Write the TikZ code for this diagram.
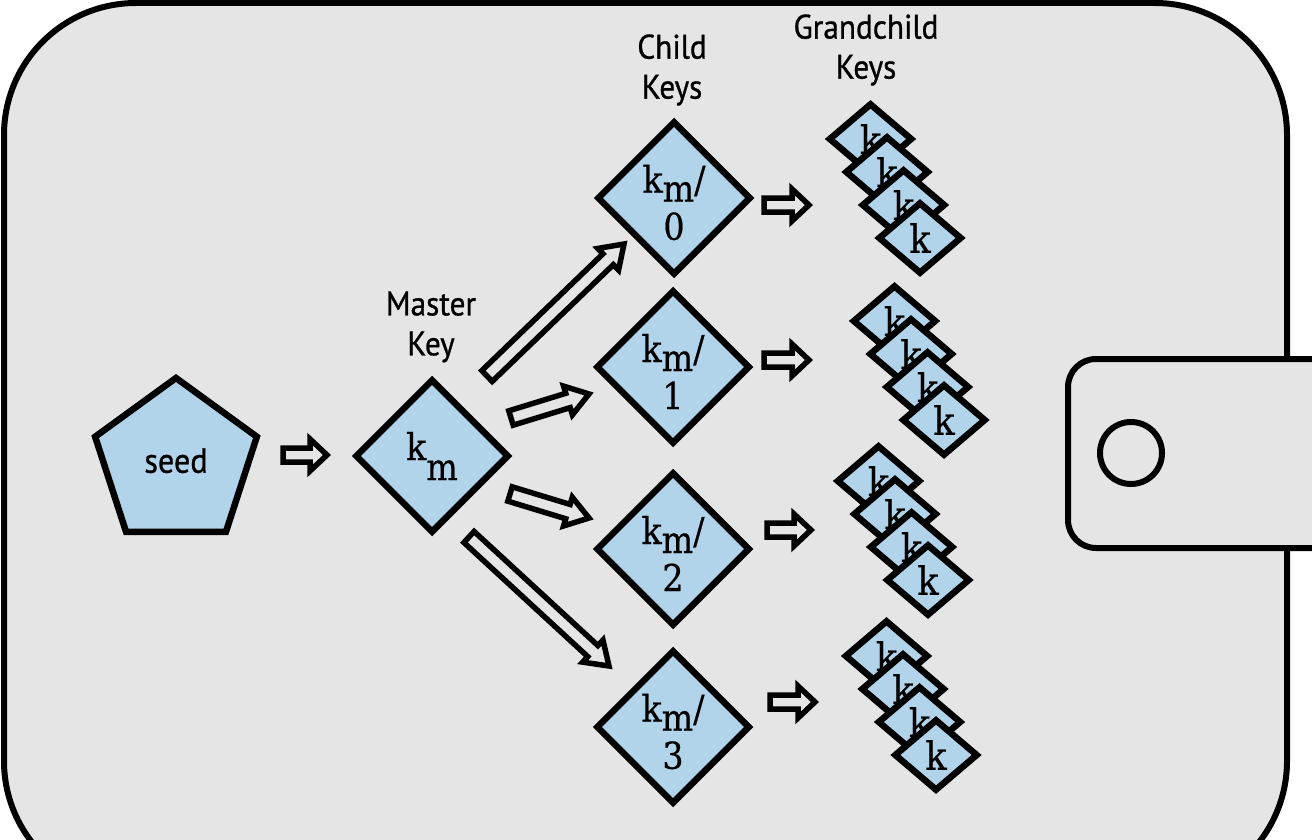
\documentclass[tikz,border=0pt]{standalone}
\usepackage{fontspec}
\setmainfont{DejaVu Serif}[FakeStretch=0.9, FakeBold=0.6]
\newfontfamily\labelfont{PT Sans}[FakeStretch=0.92, FakeBold=0.8]
\usetikzlibrary{calc,shapes.geometric}
\definecolor{keyblue}{RGB}{178,212,235}
\definecolor{walletgray}{RGB}{229,229,229}
\tikzset{
  wallet/.style={draw=black, line width=6pt, fill=walletgray},
  keybig/.style={diamond, draw=black, line width=6.5pt, fill=keyblue, minimum width=154pt, minimum height=154pt, inner sep=0pt, font=\fontsize{37}{47}\selectfont, align=center},
  keysmall/.style={diamond, draw=black, line width=6.5pt, fill=keyblue, minimum width=84pt, minimum height=72pt, inner sep=0pt, font=\fontsize{39}{43}\selectfont},
  seedshape/.style={regular polygon, regular polygon sides=5, draw=black, line width=6.5pt, fill=keyblue, minimum size=170pt, inner sep=0pt, font=\labelfont\fontsize{35}{40}\selectfont},
  caption/.style={font=\labelfont\fontsize{34}{40}\selectfont, align=center, inner sep=0pt},
  smallarrow/.code={\def\shaftw{7pt}\def\headw{16pt}\def\headl{17pt}},
  bigarrow/.code={\def\shaftw{7.5pt}\def\headw{15pt}\def\headl{22pt}},
  blockarrow/.style={draw=black, fill=walletgray, line width=5.5pt, line join=miter,
    to path={
      ($(\tikztostart)!\shaftw!90:(\tikztotarget)$)
      -- ($($(\tikztotarget)!\headl!(\tikztostart)$)!\shaftw!90:(\tikztotarget)$)
      -- ($($(\tikztotarget)!\headl!(\tikztostart)$)!\headw!90:(\tikztotarget)$)
      -- (\tikztotarget)
      -- ($($(\tikztotarget)!\headl!(\tikztostart)$)!\headw!-90:(\tikztotarget)$)
      -- ($($(\tikztotarget)!\headl!(\tikztostart)$)!\shaftw!-90:(\tikztotarget)$)
      -- ($(\tikztostart)!\shaftw!-90:(\tikztotarget)$)
      -- cycle}},
}
\begin{document}
\begin{tikzpicture}[x=1pt,y=-1pt]
\useasboundingbox (0,0) rectangle (1312,840);
\fill[white] (0,0) rectangle (1312,840);
\clip (0,0) rectangle (1312,840);
% wallet
\draw[wallet, rounded corners=132pt] (4,3) rectangle (1287,893);
\draw[wallet, rounded corners=28pt] (1068,359) rectangle (1340,548);
\node[circle, draw=black, line width=6pt, minimum size=62pt, inner sep=0pt] (button) at (1131,453) {};
% labels
\node[caption] (masterlbl) at (431,327) {Master\\Key};
\node[caption] (childlbl) at (672,70) {Child\\Keys};
\node[caption] (grandlbl) at (866,50) {Grandchild\\Keys};
% seed and master
\node[seedshape] (seed) at (176,463) {\raisebox{5pt}{seed}};
\node[keybig] (master) at (432,456) {k\raisebox{-20pt}{m}};
% children
\node[keybig] (c0) at (674,198) {\rule{0pt}{37pt}k\raisebox{-9pt}{m}/\\0};
\node[keybig] (c1) at (673,367) {\rule{0pt}{37pt}k\raisebox{-9pt}{m}/\\1};
\node[keybig] (c2) at (673,549) {\rule{0pt}{37pt}k\raisebox{-9pt}{m}/\\2};
\node[keybig] (c3) at (673,727) {\rule{0pt}{37pt}k\raisebox{-9pt}{m}/\\3};
% grandchildren
\foreach \s/\x/\y in {0/920/238, 1/944/420, 2/928/580, 3/936/755} {
  \foreach \i in {0,...,3} {
    \node[keysmall] (g\s\i) at ({\x-(3-\i)*16.5},{\y-(3-\i)*33}) {k};
  }
}
% arrow end points
\coordinate (sa1) at (283,455); \coordinate (sa2) at (327,455);
\coordinate (m0a) at (487,376); \coordinate (m0b) at (624,244);
\coordinate (m1a) at (511,418); \coordinate (m1b) at (589,394);
\coordinate (m2a) at (510,494); \coordinate (m2b) at (589,518);
\coordinate (m3a) at (469,537); \coordinate (m3b) at (609,666);
\coordinate (c0a) at (764,205); \coordinate (c0b) at (809,205);
\coordinate (c1a) at (764,360); \coordinate (c1b) at (809,360);
\coordinate (c2a) at (767,530); \coordinate (c2b) at (811,530);
\coordinate (c3a) at (770,702); \coordinate (c3b) at (815,702);
% arrows
\draw[blockarrow, smallarrow] (sa1) to (sa2);
\draw[blockarrow, bigarrow] (m0a) to (m0b);
\draw[blockarrow, bigarrow] (m1a) to (m1b);
\draw[blockarrow, bigarrow] (m2a) to (m2b);
\draw[blockarrow, bigarrow] (m3a) to (m3b);
\draw[blockarrow, smallarrow] (c0a) to (c0b);
\draw[blockarrow, smallarrow] (c1a) to (c1b);
\draw[blockarrow, smallarrow] (c2a) to (c2b);
\draw[blockarrow, smallarrow] (c3a) to (c3b);
\end{tikzpicture}
\end{document}
